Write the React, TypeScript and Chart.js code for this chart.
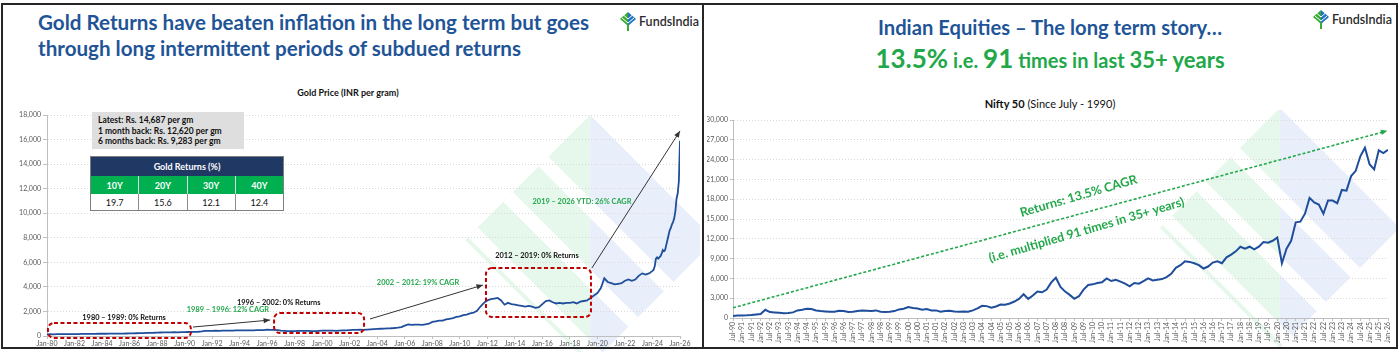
import React, { useEffect, useRef } from 'react';
import { Chart, registerables } from 'chart.js';
Chart.register(...registerables);

// ---------------- DATA ----------------
// Gold price (INR per gram), quarterly Jan/Apr/Jul/Oct from Jan-1980 to Oct-2023
const goldQuarterly = [
  130, 150, 140, 145, 150, 145, 150, 155, 150, 160, 165, 170, 175, 180, 178, 185,
  190, 185, 195, 190, 195, 190, 200, 205, 210, 220, 225, 235, 240, 255, 260, 265,
  280, 285, 295, 300, 295, 305, 300, 310, 320, 325, 330, 340, 345, 370, 410, 420,
  420, 430, 425, 435, 440, 435, 445, 450, 455, 460, 465, 462, 465, 475, 480, 485,
  515, 505, 495, 475, 445, 425, 405, 395, 405, 415, 410, 420, 415, 405, 395, 425,
  440, 445, 440, 435, 425, 445, 455, 465, 485, 495, 505, 515, 500, 520, 540, 560,
  580, 590, 600, 620, 630, 650, 680, 720, 850, 950, 900, 920, 920, 900, 950, 1000,
  1150, 1200, 1250, 1250, 1350, 1400, 1450, 1550, 1600, 1700, 1750, 1850, 1900, 2050, 2400, 2700,
  2900, 3000, 3050, 3100, 2900, 2550, 2700, 2600, 2550, 2500, 2450, 2400, 2450, 2400, 2300, 2350,
  2600, 2850, 2900, 2750, 2650, 2700, 2650, 2700, 2700, 2750, 2650, 2800, 2850, 2900, 3100, 3300,
  3500, 3900, 4700, 4400, 4300, 4200, 4250, 4300, 4500, 4600, 4500, 4600, 4900, 5100, 5000, 5100,
];
// Gold price, monthly from Jan-2024 to Jan-2026
const goldMonthlyTail = [
  5300, 5400, 5700, 6300, 6400, 6300, 6400, 6500, 6700, 7000, 6900, 7000,
  7400, 7800, 8200, 8600, 8800, 9100, 9300, 9600, 10200, 11200, 11600, 12600,
  15900,
];
const goldQuarterStart = 1980;
const goldTailStart = 2024;

// Nifty 50, quarterly Jan/Apr/Jul/Oct from Jul-1990 to Jan-2026
const niftyQuarterly = [
  300, 380,
  370, 400, 450, 520,
  600, 1250, 900, 850,
  800, 720, 750, 850,
  1150, 1250, 1400, 1350,
  1150, 1050, 1000, 950,
  950, 1100, 1050, 900,
  950, 1050, 1150, 1100,
  1050, 1150, 950, 900,
  950, 1050, 1300, 1400,
  1650, 1500, 1450, 1250,
  1350, 1150, 1150, 950,
  1050, 1100, 1000, 950,
  1000, 950, 1150, 1450,
  1850, 1800, 1550, 1750,
  2050, 2000, 2200, 2500,
  2900, 3600, 2900, 3400,
  4000, 3900, 4300, 5400,
  6100, 4700, 4000, 3500,
  2900, 3300, 4300, 5000,
  5100, 5300, 5400, 6000,
  5600, 5800, 5500, 5200,
  4800, 5300, 5200, 5600,
  6000, 5700, 5800, 5900,
  6200, 6700, 7600, 8000,
  8600, 8500, 8300, 8000,
  7500, 7800, 8400, 8600,
  8300, 9200, 9600, 10100,
  10800, 10500, 10800, 10400,
  10800, 11500, 11400, 11700,
  12200, 8300, 10500, 11700,
  14500, 14600, 15800, 18200,
  17500, 17200, 15800, 17800,
  17800, 17400, 19400, 19300,
  21500, 22300, 24500, 25800,
  23300, 22500, 25400, 25000,
  25500,
];
const niftyStart = 1990.5;
const niftyTrendStart = { x: 1990.5, y: 1550 };
const niftyTrendEnd = { x: 2025.75, y: 28200 };

const returnPeriods = ['10Y', '20Y', '30Y', '40Y'];
const goldReturns = ['19.7', '15.6', '12.1', '12.4'];
const goldInfoLines = [
  'Latest: Rs. 14,687 per gm',
  '1 month back: Rs. 12,620 per gm',
  '6 months back: Rs. 9,283 per gm',
];

// Annotations in data coordinates (year, INR)
const goldBoxes = [
  { x0: 1980.07, x1: 1990.46, y0: -160, y1: 1060 },
  { x0: 1996.5, x1: 2003.04, y0: 240, y1: 1870 },
  { x0: 2011.9, x1: 2019.53, y0: 1550, y1: 5540 },
];
const goldArrows = [
  { x0: 1990.61, y0: 730, x1: 1996.21, y1: 1300 },
  { x0: 2003.47, y0: 1385, x1: 2011.68, y1: 4150 },
  { x0: 2019.6, y0: 5540, x1: 2026.0, y1: 16700 },
];
const goldLabels = [
  { text: '1980 – 1989: 0% Returns', x: 1985.6, y: 1470, green: false },
  { text: '1989 – 1996: 12% CAGR', x: 1993.15, y: 2120, green: true },
  { text: '1996 – 2002: 0% Returns', x: 1996.84, y: 2690, green: false },
  { text: '2002 – 2012: 19% CAGR', x: 2006.96, y: 4320, green: true },
  { text: '2012 – 2019: 0% Returns', x: 2015.61, y: 6520, green: false },
  { text: '2019 – 2026 YTD: 26% CAGR', x: 2018.88, y: 10910, green: true },
];
const niftyLabels = [
  { text: 'Returns: 13.5% CAGR', x: 2009.23, y: 18480 },
  { text: '(i.e. multiplied 91 times in 35+ years)', x: 2009.66, y: 13330 },
];

// ---------------- STYLE ----------------
const BLUE_TITLE = '#1f5597';
const GREEN = '#22a84a';
const LINE_BLUE = '#1f4e9c';
const FONT = 'Lato, "Open Sans", sans-serif';

const pad2 = (n: number) => String(((Math.round(n) % 100) + 100) % 100).padStart(2, '0');

function drawWatermark(ctx: CanvasRenderingContext2D, cx: number, cy: number, r: number) {
  ctx.save();
  ctx.beginPath();
  ctx.moveTo(cx, cy - r);
  ctx.lineTo(cx + r, cy);
  ctx.lineTo(cx, cy + r);
  ctx.lineTo(cx - r, cy);
  ctx.closePath();
  ctx.clip();
  ctx.fillStyle = 'rgba(214,242,224,0.6)';
  ctx.fillRect(cx - r, cy - r, r, 2 * r);
  ctx.fillStyle = 'rgba(221,231,248,0.65)';
  ctx.fillRect(cx, cy - r, r, 2 * r);
  ctx.strokeStyle = '#ffffff';
  ctx.lineWidth = r * 0.11;
  const d = [Math.SQRT1_2, Math.SQRT1_2];
  const n = [Math.SQRT1_2, -Math.SQRT1_2];
  [-0.62, -0.22, 0.18].forEach((k) => {
    const px = cx + n[0] * k * r;
    const py = cy + n[1] * k * r;
    ctx.beginPath();
    ctx.moveTo(px - d[0] * 2 * r, py - d[1] * 2 * r);
    ctx.lineTo(px + d[0] * 2 * r, py + d[1] * 2 * r);
    ctx.stroke();
  });
  ctx.restore();
}

function arrowHead(ctx: CanvasRenderingContext2D, x0: number, y0: number, x1: number, y1: number, size: number, color: string) {
  const a = Math.atan2(y1 - y0, x1 - x0);
  ctx.save();
  ctx.fillStyle = color;
  ctx.beginPath();
  ctx.moveTo(x1, y1);
  ctx.lineTo(x1 - size * Math.cos(a - 0.4), y1 - size * Math.sin(a - 0.4));
  ctx.lineTo(x1 - size * Math.cos(a + 0.4), y1 - size * Math.sin(a + 0.4));
  ctx.closePath();
  ctx.fill();
  ctx.restore();
}

function FundsLogo({ left, top }: { left: number; top: number }) {
  return (
    <div style={{ position: 'absolute', left, top, display: 'flex', alignItems: 'center', gap: 3 }}>
      <svg width="16" height="19" viewBox="0 0 16 19">
        <polygon points="8,0 8,14 0,7" fill="#3aaa35" />
        <polygon points="8,0 16,7 8,14" fill="#1e73be" />
        <rect x="7" y="13" width="2" height="6" fill="#3aaa35" />
        <polyline points="2,6 8,11 14,6" fill="none" stroke="#fff" strokeWidth="1" />
        <polyline points="4,3.5 8,7 12,3.5" fill="none" stroke="#fff" strokeWidth="1" />
      </svg>
      <span style={{ fontFamily: FONT, fontSize: 12.5, color: '#2b2b2b', fontWeight: 600 }}>FundsIndia</span>
    </div>
  );
}

export default function App() {
  const goldRef = useRef<HTMLCanvasElement>(null);
  const niftyRef = useRef<HTMLCanvasElement>(null);

  useEffect(() => {
    const goldPoints = [
      ...goldQuarterly.map((v, i) => ({ x: goldQuarterStart + i * 0.25, y: v })),
      ...goldMonthlyTail.map((v, i) => ({ x: goldTailStart + i / 12, y: v })),
    ];
    const niftyPoints = niftyQuarterly.map((v, i) => ({ x: niftyStart + i * 0.25, y: v }));

    const goldPlugin = {
      id: 'goldDecor',
      beforeDraw(chart: any) {
        const { ctx, chartArea: a } = chart;
        drawWatermark(ctx, a.left + (a.right - a.left) * 0.858, a.top + (a.bottom - a.top) * 0.566, 125);
      },
      afterDatasetsDraw(chart: any) {
        const { ctx } = chart;
        const xs = chart.scales.x;
        const ys = chart.scales.y;
        ctx.save();
        ctx.strokeStyle = '#c00000';
        ctx.lineWidth = 2;
        ctx.setLineDash([4, 2.5]);
        goldBoxes.forEach((b) => {
          const x0 = xs.getPixelForValue(b.x0);
          const x1 = xs.getPixelForValue(b.x1);
          const y0 = ys.getPixelForValue(b.y1);
          const y1 = ys.getPixelForValue(b.y0);
          ctx.beginPath();
          ctx.roundRect(x0, y0, x1 - x0, y1 - y0, 6);
          ctx.stroke();
        });
        ctx.setLineDash([]);
        ctx.strokeStyle = '#333';
        ctx.lineWidth = 1;
        goldArrows.forEach((ar) => {
          const x0 = xs.getPixelForValue(ar.x0);
          const y0 = ys.getPixelForValue(ar.y0);
          const x1 = xs.getPixelForValue(ar.x1);
          const y1 = ys.getPixelForValue(ar.y1);
          ctx.beginPath();
          ctx.moveTo(x0, y0);
          ctx.lineTo(x1, y1);
          ctx.stroke();
          arrowHead(ctx, x0, y0, x1, y1, 7, '#333');
        });
        ctx.textAlign = 'center';
        ctx.textBaseline = 'middle';
        ctx.font = `bold 7.4px ${FONT}`;
        goldLabels.forEach((l) => {
          ctx.fillStyle = l.green ? GREEN : '#111';
          ctx.fillText(l.text, xs.getPixelForValue(l.x), ys.getPixelForValue(l.y));
        });
        ctx.restore();
      },
    };

    const niftyPlugin = {
      id: 'niftyDecor',
      beforeDraw(chart: any) {
        const { ctx, chartArea: a } = chart;
        drawWatermark(ctx, a.left + (a.right - a.left) * 0.835, a.top + (a.bottom - a.top) * 0.545, 120);
      },
      afterDatasetsDraw(chart: any) {
        const { ctx } = chart;
        const xs = chart.scales.x;
        const ys = chart.scales.y;
        const pts = chart.getDatasetMeta(1).data;
        const p0 = pts[0];
        const p1 = pts[pts.length - 1];
        arrowHead(ctx, p0.x, p0.y, p1.x + 4, p1.y - 1.1, 7, GREEN);
        const ang = Math.atan2(p1.y - p0.y, p1.x - p0.x) - 0.02;
        ctx.save();
        ctx.fillStyle = GREEN;
        ctx.font = `bold 12.5px ${FONT}`;
        ctx.textAlign = 'center';
        ctx.textBaseline = 'middle';
        niftyLabels.forEach((l) => {
          ctx.save();
          ctx.translate(xs.getPixelForValue(l.x), ys.getPixelForValue(l.y));
          ctx.rotate(ang);
          ctx.fillText(l.text, 0, 0);
          ctx.restore();
        });
        ctx.restore();
      },
    };

    const tickFont = { family: FONT, size: 7 };
    const gold = new Chart(goldRef.current!, {
      type: 'line',
      data: {
        datasets: [
          { data: goldPoints, borderColor: LINE_BLUE, borderWidth: 1.8, pointRadius: 0, fill: false, tension: 0 },
        ],
      },
      options: {
        responsive: false,
        animation: false,
        layout: { padding: { left: 7, right: 20, top: 35, bottom: 4 } },
        plugins: { legend: { display: false }, tooltip: { enabled: false }, title: { display: false } },
        scales: {
          x: {
            type: 'linear',
            min: 1980,
            max: 2026,
            afterFit: (s: any) => { s.height = 12; },
            ticks: {
              stepSize: 2,
              maxTicksLimit: 100,
              autoSkip: false,
              maxRotation: 0,
              minRotation: 0,
              padding: 1,
              font: tickFont,
              color: '#595959',
              callback: (v: any) => 'Jan-' + pad2(Number(v)),
            },
            grid: { drawOnChartArea: false, tickLength: 3, color: '#bfbfbf' },
            border: { color: '#bfbfbf' },
          },
          y: {
            min: 0,
            max: 18000,
            afterFit: (s: any) => { s.width = 40; },
            ticks: {
              stepSize: 2000,
              padding: 2,
              font: tickFont,
              color: '#595959',
              callback: (v: any) => Number(v).toLocaleString('en-US'),
            },
            grid: { color: '#d9d9d9', tickLength: 4, tickColor: '#bfbfbf' },
            border: { color: '#bfbfbf', dash: [1, 2] },
          },
        },
      },
      plugins: [goldPlugin],
    } as any);

    const nifty = new Chart(niftyRef.current!, {
      type: 'line',
      data: {
        datasets: [
          { data: niftyPoints, borderColor: LINE_BLUE, borderWidth: 2, pointRadius: 0, fill: false, tension: 0 },
          {
            data: [niftyTrendStart, niftyTrendEnd],
            borderColor: GREEN,
            borderWidth: 1.6,
            borderDash: [3, 2],
            pointRadius: 0,
            fill: false,
          },
        ],
      },
      options: {
        responsive: false,
        animation: false,
        layout: { padding: { left: 4, right: 10, top: 10, bottom: 6 } },
        plugins: { legend: { display: false }, tooltip: { enabled: false } },
        scales: {
          x: {
            type: 'linear',
            min: 1990.5,
            max: 2026,
            afterFit: (s: any) => { s.height = 28; },
            ticks: {
              stepSize: 0.5,
              maxTicksLimit: 200,
              autoSkip: false,
              maxRotation: 90,
              minRotation: 90,
              padding: 1,
              font: tickFont,
              color: '#595959',
              callback: (v: any) => {
                const n = Number(v);
                const yr = Math.floor(n + 1e-6);
                return (n - yr > 0.25 ? 'Jul-' : 'Jan-') + pad2(yr);
              },
            },
            grid: { drawOnChartArea: false, tickLength: 3, color: '#bfbfbf' },
            border: { color: '#bfbfbf' },
          },
          y: {
            min: 0,
            max: 30000,
            afterFit: (s: any) => { s.width = 26; },
            ticks: {
              stepSize: 3000,
              padding: 2,
              font: tickFont,
              color: '#595959',
              callback: (v: any) => Number(v).toLocaleString('en-US'),
            },
            grid: { color: '#d9d9d9', tickLength: 3, tickColor: '#bfbfbf' },
            border: { color: '#bfbfbf', dash: [1, 2] },
          },
        },
      },
      plugins: [niftyPlugin],
    } as any);

    return () => {
      gold.destroy();
      nifty.destroy();
    };
  }, []);

  const cell: React.CSSProperties = {
    flex: 1,
    display: 'flex',
    alignItems: 'center',
    justifyContent: 'center',
  };

  return (
    <div style={{ position: 'relative', width: 1400, height: 352, overflow: 'hidden', background: '#fff', fontFamily: FONT }}>
      <style>{'body{margin:0}'}</style>

      {/* LEFT PANEL */}
      <div
        style={{
          position: 'absolute', left: 38, top: 9, width: 600, fontSize: 20.6, fontWeight: 700,
          lineHeight: '26px', color: BLUE_TITLE, whiteSpace: 'nowrap',
        }}
      >
        Gold Returns have beaten inflation in the long term but goes
        <br />
        through long intermittent periods of subdued returns
      </div>
      <FundsLogo left={620} top={12} />
      <div style={{ position: 'absolute', left: 248, width: 200, top: 87, textAlign: 'center', fontSize: 9, fontWeight: 700, color: '#111' }}>
        Gold Price (INR per gram)
      </div>
      <canvas ref={goldRef} width={700} height={272} style={{ position: 'absolute', left: 0, top: 80 }} />
      <div
        style={{
          position: 'absolute', left: 92, top: 112, width: 152, height: 37, background: '#dedede',
          fontSize: 8.5, fontWeight: 700, color: '#111', lineHeight: '10.5px', padding: '3px 0 0 6px', boxSizing: 'border-box',
        }}
      >
        {goldInfoLines.map((t) => (
          <div key={t}>{t}</div>
        ))}
      </div>
      <div style={{ position: 'absolute', left: 90, top: 156, width: 194, border: '1px solid #7f7f7f', boxSizing: 'border-box', fontSize: 9, background: '#fff' }}>
        <div style={{ height: 19, background: '#1f3864', color: '#fff', fontWeight: 700, display: 'flex', alignItems: 'center', justifyContent: 'center' }}>
          Gold Returns (%)
        </div>
        <div style={{ height: 18, background: '#00b050', color: '#fff', fontWeight: 700, display: 'flex' }}>
          {returnPeriods.map((p, i) => (
            <div key={p} style={{ ...cell, borderRight: i < 3 ? '1px solid #d9d9d9' : 'none' }}>{p}</div>
          ))}
        </div>
        <div style={{ height: 16, color: '#111', display: 'flex' }}>
          {goldReturns.map((p, i) => (
            <div key={i} style={{ ...cell, borderRight: i < 3 ? '1px solid #8c8c8c' : 'none' }}>{p}</div>
          ))}
        </div>
      </div>

      {/* RIGHT PANEL */}
      <div style={{ position: 'absolute', left: 703, width: 694, top: 13, textAlign: 'center', color: BLUE_TITLE, fontSize: 20.2, fontWeight: 700, lineHeight: '28px', whiteSpace: 'nowrap' }}>
        Indian Equities – The long term story…
      </div>
      <div style={{ position: 'absolute', left: 703, width: 694, top: 42, textAlign: 'center', color: GREEN, fontWeight: 700, lineHeight: '32px', whiteSpace: 'nowrap' }}>
        <span style={{ fontSize: 26 }}>13.5%</span>
        <span style={{ fontSize: 20 }}> i.e. </span>
        <span style={{ fontSize: 26 }}>91</span>
        <span style={{ fontSize: 20 }}> times in last </span>
        <span style={{ fontSize: 22 }}>35+ years</span>
      </div>
      <FundsLogo left={1313} top={10} />
      <div style={{ position: 'absolute', left: 703, width: 694, top: 97, textAlign: 'center', fontSize: 11, color: '#111' }}>
        <b>Nifty 50</b> (Since July - 1990)
      </div>
      <canvas ref={niftyRef} width={695} height={242} style={{ position: 'absolute', left: 703, top: 110 }} />

      {/* FRAME */}
      <div style={{ position: 'absolute', left: 1, top: 3, width: 1397, height: 346, border: '2px solid #262626', boxSizing: 'border-box', pointerEvents: 'none' }} />
      <div style={{ position: 'absolute', left: 702, top: 3, width: 2, height: 346, background: '#262626' }} />
    </div>
  );
}
